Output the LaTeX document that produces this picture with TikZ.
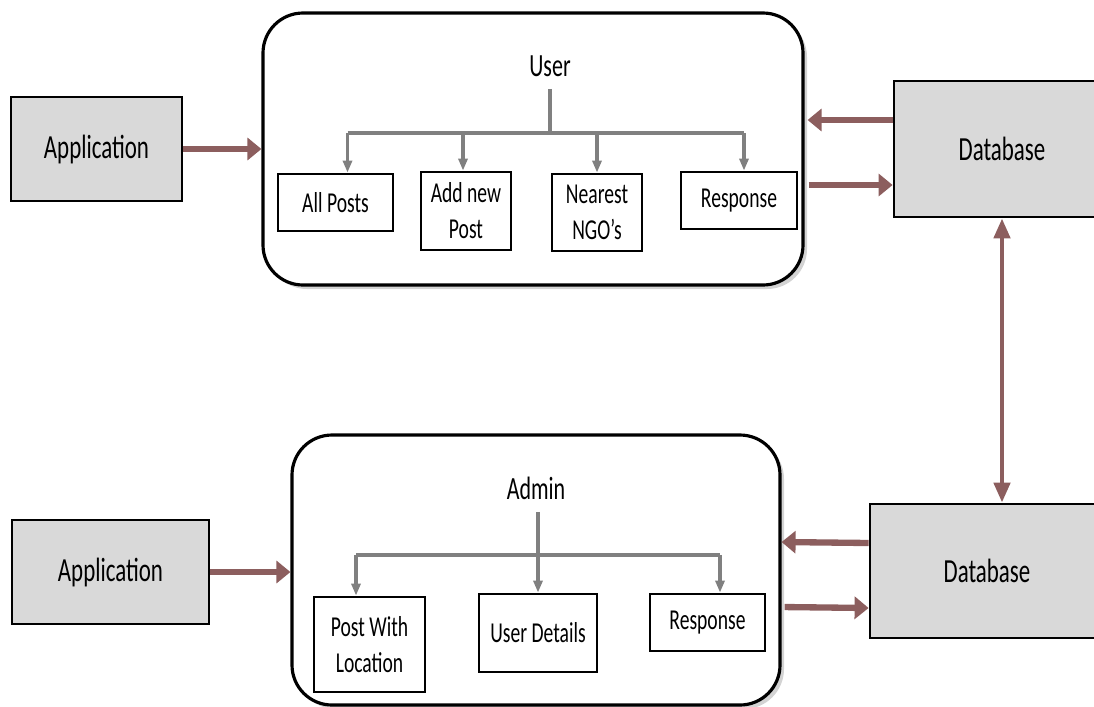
\documentclass[tikz,border=0pt]{standalone}
\usepackage{fontspec}
\setmainfont[FakeStretch=0.68]{Carlito}
\usepackage{tikz}
\usetikzlibrary{positioning, arrows.meta, shadows}
\definecolor{flowbrown}{RGB}{140,94,94}
\definecolor{boxgray}{RGB}{217,217,217}

\begin{document}
\begin{tikzpicture}[
        block/.style={rectangle, draw, line width=0.8pt, fill=boxgray, font=\fontsize{9.6}{11}\selectfont},
        panel/.style={rectangle, draw, rounded corners=0.4cm, line width=0.9pt, fill=white, drop shadow={opacity=0.35, shadow xshift=0.04cm, shadow yshift=-0.04cm}},
        item/.style={rectangle, draw, line width=0.8pt, fill=white, align=center, inner sep=1pt, font=\fontsize{8.2}{10.2}\selectfont},
        heading/.style={font=\fontsize{9.2}{11}\selectfont},
        flow/.style={draw=flowbrown, line width=1.8pt, -{Triangle[length=1.4mm, width=2.2mm]}},
        branch/.style={draw=gray, line width=0.9pt},
        tip/.style={-{Triangle[length=1.2mm, width=0.9mm]}},
        link/.style={draw=flowbrown, line width=1.3pt, {Triangle[length=2mm, width=1.6mm]}-{Triangle[length=2mm, width=1.6mm]}}
    ]
    \useasboundingbox (0,0) rectangle (10.94,7.06);
    \clip (0,0) rectangle (10.94,7.06);

    % user side
    \node[block, minimum width=1.71cm, minimum height=1.04cm] (app1) at (0.965, 5.57) {Application};
    \node[panel, minimum width=5.40cm, minimum height=2.72cm] (userpanel) at (5.33, 5.57) {};
    \node[heading] (user) at (5.50, 6.40) {User};
    \node[item, minimum width=1.15cm, minimum height=0.57cm] (allposts) at (3.355, 5.035) {All Posts};
    \node[item, minimum width=0.90cm, minimum height=0.78cm] (addpost) at (4.66, 4.95) {Add new\\Post};
    \node[item, minimum width=0.90cm, minimum height=0.77cm] (nearngo) at (5.97, 4.935) {Nearest\\NGO’s};
    \node[item, minimum width=1.16cm, minimum height=0.57cm] (uresp) at (7.39, 5.055) {Response};
    \node[block, minimum width=2.16cm, minimum height=1.36cm] (db1) at (10.02, 5.57) {Database};

    \coordinate (ubus) at (5.50, 5.73);
    \draw[branch] (user.south) -- (user.south |- ubus);
    \foreach \b/\dx in {allposts/0.12, addpost/-0.03, nearngo/0, uresp/0.05} {
        \coordinate (tip\b) at ([xshift=\dx cm]\b.north);
        \draw[branch, tip] (tip\b |- ubus) -- (tip\b);
    }
    \draw[branch] (tipallposts |- ubus) -- (tipuresp |- ubus);

    \draw[flow] (app1.east) -- (app1.east -| userpanel.west);
    \draw[flow, shorten >=0.03cm] ([yshift=0.29cm]db1.west) -- ([yshift=0.29cm]userpanel.east);
    \draw[flow, shorten <=0.04cm] ([yshift=-0.36cm]userpanel.east) -- ([yshift=-0.36cm]db1.west);

    % admin side
    \node[block, minimum width=1.97cm, minimum height=1.04cm] (app2) at (1.105, 1.34) {Application};
    \node[panel, minimum width=4.88cm, minimum height=2.70cm] (adminpanel) at (5.36, 1.36) {};
    \node[heading] (admin) at (5.36, 2.18) {Admin};
    \node[item, minimum width=1.11cm, minimum height=0.95cm] (aloc) at (3.695, 0.615) {Post With\\Location};
    \node[item, minimum width=1.18cm, minimum height=0.78cm] (adetail) at (5.38, 0.73) {User Details};
    \node[item, minimum width=1.15cm, minimum height=0.57cm] (aresp) at (7.075, 0.835) {Response};
    \node[block, minimum width=2.34cm, minimum height=1.34cm] (db2) at (9.87, 1.35) {Database};

    \coordinate (abus) at (5.37, 1.51);
    \draw[branch, tip] (admin.south -| adetail.north) -- (adetail.north);
    \foreach \b/\dx in {aloc/-0.135, aresp/0.125} {
        \coordinate (tip\b) at ([xshift=\dx cm]\b.north);
        \draw[branch, tip] (tip\b |- abus) -- (tip\b);
    }
    \draw[branch] (tipaloc |- abus) -- (tiparesp |- abus);

    \draw[flow] (app2.east) -- (app2.east -| adminpanel.west);
    \draw[flow] ([yshift=0.28cm]db2.west) -- ([yshift=0.28cm]adminpanel.east);
    \draw[flow, shorten <=0.03cm] ([yshift=-0.37cm]adminpanel.east) -- ([yshift=-0.37cm]db2.west);

    % between the two databases
    \draw[link] (db1.south) -- (db1.south |- db2.north);
\end{tikzpicture}
\end{document}
